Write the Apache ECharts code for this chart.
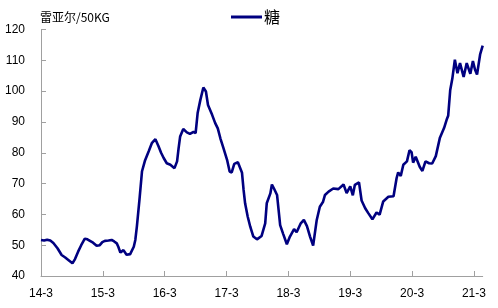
<!DOCTYPE html>
<html><head><meta charset="utf-8">
<script src="https://cdn.jsdelivr.net/npm/echarts@6/dist/echarts.min.js"></script>
<style>html,body{margin:0;padding:0;background:#fff}#c{width:498px;height:308px}</style>
</head><body><div id="c"></div>
<script>
const unitLabel = '雷亚尔/50KG';
const seriesName = '糖';
const tickLabels = ['14-3','15-3','16-3','17-3','18-3','19-3','20-3','21-3'];
// months since 2014-03
const months = [0,0.6,1.2,1.8,2.4,3.2,4.0,4.7,5.3,6.1,6.6,7.2,7.8,8.5,9.0,9.5,10.1,10.8,11.4,11.9,12.4,13.1,13.7,14.2,14.7,15.0,15.4,16.0,16.6,17.3,18.0,18.3,18.6,19.1,19.6,20.2,20.9,21.5,22.2,22.8,23.3,23.8,24.4,25.1,25.9,26.4,26.7,27.0,27.6,28.3,28.9,29.6,30.0,30.4,30.9,31.5,32.0,32.4,33.2,33.8,34.3,34.8,35.4,36.1,36.6,37.0,37.5,38.2,38.5,39.0,39.3,39.6,40.1,40.6,41.2,41.9,42.8,43.5,43.8,44.5,44.8,45.2,45.8,46.4,47.0,47.7,48.3,49.1,49.6,50.4,51.0,51.6,52.2,52.8,53.5,54.1,54.7,55.1,55.8,56.7,57.7,58.7,59.3,60.0,60.5,60.9,61.7,62.2,62.9,63.5,64.3,65.1,65.7,66.4,67.4,68.4,69.0,69.3,69.8,70.3,71.0,71.5,71.9,72.2,72.7,73.5,74.0,74.6,75.3,75.9,76.6,77.4,78.2,78.7,79.0,79.4,79.8,80.3,80.8,81.3,82.0,82.6,83.3,83.8,84.2,84.6,85.2,85.7];
const prices = [51.7,51.5,51.8,51.5,50.7,49.0,46.8,46.0,45.2,44.1,45.5,47.9,50.0,52.1,51.9,51.4,50.8,49.8,50.0,51.0,51.4,51.5,51.7,51.2,50.6,49.5,47.6,48.4,46.9,47.1,49.5,51.7,56,64.7,74.0,77.6,80.5,83.1,84.4,82.1,80.0,78.3,76.6,76.1,75,77.2,81.5,85.3,87.7,86.6,86.1,86.8,86.4,93.0,97.0,101.2,99.9,95.5,92.3,89.6,87.9,84.7,81.5,77.7,73.9,73.6,76.4,76.9,77.2,73.5,68,63.6,59.3,56,52.8,51.9,53.0,57.1,63.6,66.8,69.7,68.4,66.3,56.5,53.6,50.3,52.8,55.2,54.2,57.1,58.2,56.2,52.8,49.9,58.2,62.5,64,66.3,67.4,68.4,68.2,69.7,66.9,69.1,66.2,69.6,70.4,64.5,62,60.4,58.4,60.6,59.9,64.2,65.7,65.9,71.8,73.6,72.5,76.1,77.2,80.8,80.2,76.8,78.7,75.4,74.1,77.2,76.6,76.5,78.9,84.9,88,90.7,92,100.4,104,110.2,105.8,109.1,104.6,109.1,105.6,109.8,107.0,105.4,111.9,114.8];

const chart = echarts.init(document.getElementById('c'), null, {renderer:'canvas'});
const font = 'Liberation Sans, Arial, sans-serif';
chart.setOption({
  animation:false,
  backgroundColor:'#fff',
  grid:{left:41,right:15.3,top:29.5,bottom:32},
  title:{text:unitLabel,left:35,top:6,textStyle:{fontSize:12,fontWeight:'normal',color:'#000',fontFamily:'Noto Sans CJK SC, '+font}},
  legend:{data:[seriesName],left:226,top:4,icon:'rect',itemWidth:31,itemHeight:3,itemGap:2,
    textStyle:{fontSize:16,color:'#000',padding:[0,0,0,-3],fontFamily:'Noto Sans CJK SC, '+font}},
  xAxis:{type:'value',min:0,max:85.7,interval:12,
    axisLine:{lineStyle:{color:'#a0a0a0',width:1}},
    axisTick:{inside:true,length:5,lineStyle:{color:'#a0a0a0'}},
    splitLine:{show:false},
    axisLabel:{margin:12,fontSize:12,color:'#000',fontFamily:font,showMaxLabel:false,
      formatter:v=>tickLabels[Math.round(v/12)]||''}},
  yAxis:{type:'value',min:40,max:120,interval:10,
    axisLine:{show:true,lineStyle:{color:'#a0a0a0',width:1}},
    axisTick:{show:true,inside:true,length:5,lineStyle:{color:'#a0a0a0'}},
    splitLine:{show:false},
    axisLabel:{margin:16,fontSize:12,color:'#000',fontFamily:font}},
  series:[{name:seriesName,type:'line',showSymbol:false,symbol:'none',
    data:months.map((m,i)=>[m,prices[i]]),
    lineStyle:{color:'#000080',width:2.6},itemStyle:{color:'#000080'}}]
});
</script></body></html>
